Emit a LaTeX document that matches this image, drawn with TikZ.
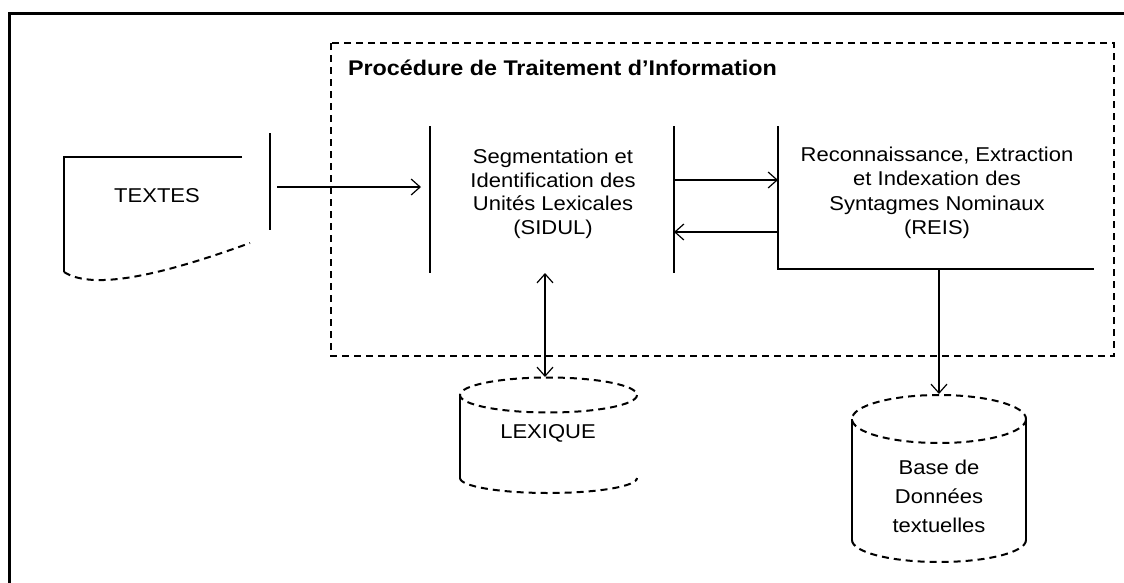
\documentclass[tikz,border=0pt]{standalone}
\usepackage{fontspec}
\setmainfont{Liberation Sans}[FakeStretch=1.1]
\usetikzlibrary{arrows.meta}
\begin{document}
\begin{tikzpicture}[x=1pt,y=-1pt,
  line width=2pt,
  txt/.style={font=\fontsize{20}{23.5}\selectfont, align=center, inner sep=0pt},
  box/.style={draw=none, inner sep=0pt},
  tip/.style={-{Straight Barb[length=9pt,width=16pt,line width=1.2pt]}},
  dtip/.style={{Straight Barb[length=9pt,width=16pt,line width=1.2pt]}-{Straight Barb[length=9pt,width=16pt,line width=1.2pt]}},
  dashline/.style={dash pattern=on 7pt off 5pt}]
\useasboundingbox (0,0) rectangle (1124,582);
\clip (0,0) rectangle (1124,582);
\fill[white] (0,0) rectangle (1124,582);

% outer frame
\draw[line width=3pt] (9,600) -- (9,13) -- (1140,13);

% dashed process frame and its title
\draw[dashline] (331,43) rectangle (1114,356);
\node[txt, anchor=west, font=\fontsize{21.2}{24}\selectfont\bfseries] (title) at (347,68) {Procédure de Traitement d'Information};

% input document
\node[txt] (textes) at (157,196) {TEXTES};
\draw (242,157) -- (64,157) -- (64,272);
\draw[dashline] (64,272) .. controls (95,292) and (170,272) .. (250,243);
\draw (270,133) -- (270,230);
\coordinate (texout) at (277,187);

% segmentation module
\node[box, minimum width=242pt, minimum height=145pt] (sidul) at (552,199.5) {};
\draw (sidul.north west) -- (sidul.south west);
\draw (sidul.north east) -- (sidul.south east);
\node[txt] (sidultxt) at (553,194) {Segmentation et\\Identification des\\Unités Lexicales\\(SIDUL)};

% recognition module
\node[box, minimum width=314pt, minimum height=141pt] (reis) at (936,197.5) {};
\draw (reis.north west) -- (reis.south west) -- (reis.south east);
\node[txt, font=\fontsize{20}{24.5}\selectfont] (reistxt) at (937,193) {Reconnaissance, Extraction\\et Indexation des\\Syntagmes Nominaux\\(REIS)};

% lexicon store
\node[txt] (lex) at (548,433) {LEXIQUE};
\coordinate (lextop) at (548,377);
\draw[dashline] (548.5,395) ellipse [x radius=88.5, y radius=17.5];
\draw (460,395) -- (460,478);
\draw[dashline] (460,478) arc [start angle=180, end angle=0, x radius=88.5, y radius=15];

% textual database
\node[txt, font=\fontsize{20}{29}\selectfont] (bdd) at (939,496) {Base de\\Données\\textuelles};
\coordinate (bddtop) at (939,394);
\draw[dashline] (939,419) ellipse [x radius=87, y radius=24];
\draw (852,419) -- (852,540);
\draw (1026,419) -- (1026,540);
\draw[dashline] (852,540) arc [start angle=180, end angle=0, x radius=87, y radius=22];

% connectors
\draw[tip, shorten >=9pt] (texout) -- (sidul.west |- texout);
\draw[tip] (sidul.east |- 0,180) -- (reis.west |- 0,180);
\draw[tip] (reis.west |- 0,232) -- (sidul.east |- 0,232);
\draw[tip] (reis.south -| bddtop) -- (bddtop);
\draw[dtip] (sidul.south -| 545,0) -- (lextop -| 545,0);
\end{tikzpicture}
\end{document}
